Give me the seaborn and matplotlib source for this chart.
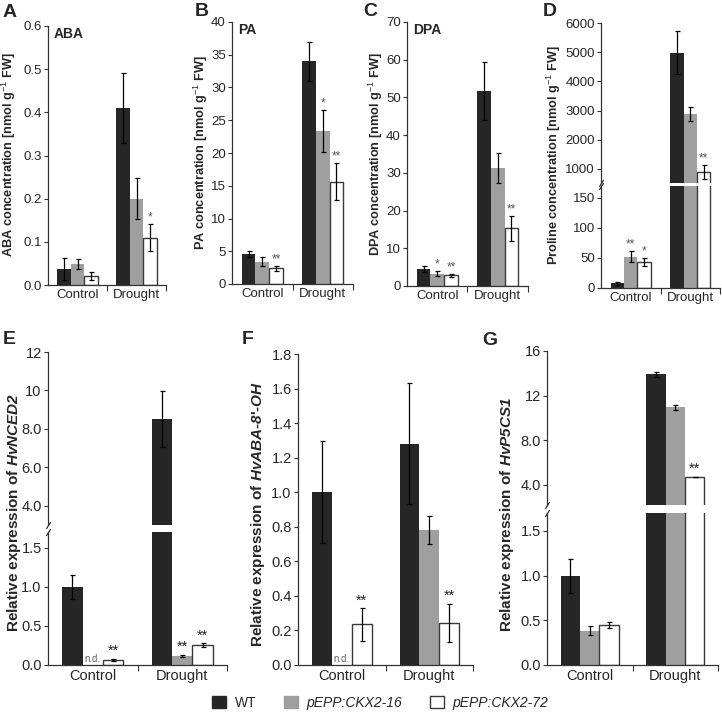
import numpy as np
import pandas as pd
import matplotlib.pyplot as plt
import seaborn as sns
from matplotlib.patches import Patch

sns.set_style("ticks")
plt.rcParams['font.family'] = ['Liberation Sans', 'DejaVu Sans']
plt.rcParams['mathtext.fontset'] = 'custom'
plt.rcParams['mathtext.rm'] = 'Liberation Sans'
plt.rcParams['mathtext.it'] = 'Liberation Sans:italic'
plt.rcParams['mathtext.bf'] = 'Liberation Sans:bold'
plt.rcParams['mathtext.bfit'] = 'Liberation Sans:bold:italic'

# -------------------------------
# Data (rows: WT, CKX2-16, CKX2-72 ; columns: Control, Drought)
# -------------------------------
conditions = ["Control", "Drought"]
lines = ["WT", "pEPP:CKX2-16", "pEPP:CKX2-72"]

aba_mean = [[0.037, 0.41], [0.049, 0.20], [0.020, 0.11]]
aba_err = [[0.026, 0.08], [0.011, 0.047], [0.009, 0.031]]
aba_sig = [["", ""], ["", ""], ["", "*"]]

pa_mean = [[4.6, 34.0], [3.4, 23.3], [2.4, 15.6]]
pa_err = [[0.5, 3.0], [0.7, 3.2], [0.35, 2.8]]
pa_sig = [["", ""], ["", "*"], ["**", "**"]]

dpa_mean = [[4.5, 51.7], [3.3, 31.3], [2.8, 15.3]]
dpa_err = [[0.7, 7.8], [0.6, 3.9], [0.4, 3.3]]
dpa_sig = [["", ""], ["*", ""], ["**", "**"]]

pro_mean = [[8, 4980], [52, 2880], [44, 890]]
pro_err = [[2.5, 740], [9, 250], [6.5, 250]]
pro_sig = [["", ""], ["**", ""], ["*", "**"]]

nced_mean = [[1.0, 8.5], [np.nan, 0.12], [0.065, 0.255]]
nced_err = [[0.155, 1.45], [np.nan, 0.012], [0.018, 0.02]]
nced_sig = [["", ""], ["n.d.", "**"], ["**", "**"]]

aba8_mean = [[1.0, 1.28], [np.nan, 0.78], [0.235, 0.245]]
aba8_err = [[0.295, 0.35], [np.nan, 0.08], [0.095, 0.11]]
aba8_sig = [["", ""], ["n.d.", ""], ["**", "**"]]

p5cs_mean = [[1.0, 13.9], [0.385, 10.95], [0.445, 4.7]]
p5cs_err = [[0.19, 0.22], [0.055, 0.2], [0.035, 0.03]]
p5cs_sig = [["", ""], ["", ""], ["", "**"]]

colors = ["#262626", "#9f9f9f", "#ffffff"]
edge = "#3a3a3a"
spine_col = "#333333"

W, H = 722, 713
fig = plt.figure(figsize=(W / 100, H / 100), dpi=100)


def px_axes(x0, y0, x1, y1):
    return fig.add_axes([x0 / W, 1 - y1 / H, (x1 - x0) / W, (y1 - y0) / H])


def make_df(mean):
    rows = []
    for i, ln in enumerate(lines):
        for j, c in enumerate(conditions):
            rows.append({'condition': c, 'line': ln, 'value': mean[i][j]})
    return pd.DataFrame(rows)


def draw_bars(ax, mean, err, sig, ylim, yticks, yticklabels, fs, star_fs,
              star_col, bottom=True, show_nd=True):
    df = make_df(mean).fillna(0)
    sns.barplot(data=df, x='condition', y='value', hue='line', order=conditions,
                hue_order=lines, palette=colors, width=0.68, saturation=1,
                errorbar=None, legend=False, linewidth=0, ax=ax)
    bar_groups = list(ax.containers)[:3]
    for i, cont in enumerate(bar_groups):
        for j, bar in enumerate(cont):
            if i == 2:
                bar.set_edgecolor(edge)
                bar.set_linewidth(1.0)
            m, e, s = mean[i][j], err[i][j], sig[i][j]
            xc = bar.get_x() + bar.get_width() / 2
            if np.isnan(m):
                if show_nd and s:
                    ax.annotate(s, (xc, 0), xytext=(0, 1), textcoords='offset points',
                                ha='center', va='bottom', fontsize=7, color='#666666',
                                annotation_clip=False)
                continue
            ax.errorbar(xc, m, yerr=e, fmt='none', ecolor='k', elinewidth=0.9,
                        capsize=1.8, capthick=0.9)
            if s:
                ax.annotate(s, (xc, m + e), xytext=(0, 0.5), textcoords='offset points',
                            ha='center', va='bottom', fontsize=star_fs, color=star_col,
                            annotation_clip=True)
    ax.set_xlim(-0.5, 1.5)
    ax.set_ylim(*ylim)
    ax.set_xlabel('')
    ax.set_ylabel('')
    ax.set_yticks(yticks)
    ax.set_yticklabels(yticklabels)
    for sp in ['top', 'right']:
        ax.spines[sp].set_visible(False)
    for sp in ['left', 'bottom']:
        ax.spines[sp].set_color(spine_col)
        ax.spines[sp].set_linewidth(0.9)
    ax.tick_params(axis='y', length=3, width=0.8, color=spine_col, labelsize=fs, pad=1.5)
    if bottom:
        ax.set_xticks([0.5, 1.5])
        ax.set_xticklabels(['', ''])
        ax.set_xticks([0, 1], minor=True)
        ax.set_xticklabels(conditions, minor=True)
        ax.tick_params(axis='x', which='major', length=4, width=0.8, color=spine_col)
        ax.tick_params(axis='x', which='minor', length=0, labelsize=fs, pad=3)
    else:
        ax.spines['bottom'].set_visible(False)
        ax.set_xticks([])


def break_marks(ax_hi, ax_lo):
    kw = dict(marker=[(-1, -1.6), (1, 1.6)], markersize=5, linestyle='none',
              color=spine_col, mec=spine_col, mew=0.9, clip_on=False)
    ax_lo.plot([0], [1.0], transform=ax_lo.transAxes, **kw)
    ax_hi.plot([0], [0.0], transform=ax_hi.transAxes, **kw)


# ---------------- top row ----------------
top_fs = 9.5
axA = px_axes(48, 26, 166, 285)
aticks = np.round(np.arange(0, 0.61, 0.1), 1)
draw_bars(axA, aba_mean, aba_err, aba_sig, (0, 0.6), aticks,
          [f"{v:.1f}" for v in aticks], top_fs, 8.5, '#555555')

axB = px_axes(232, 22, 353, 284)
draw_bars(axB, pa_mean, pa_err, pa_sig, (0, 40), list(range(0, 41, 5)),
          [str(v) for v in range(0, 41, 5)], top_fs, 8.5, '#555555')

axC = px_axes(407, 22, 528, 286)
draw_bars(axC, dpa_mean, dpa_err, dpa_sig, (0, 70), list(range(0, 71, 10)),
          [str(v) for v in range(0, 71, 10)], top_fs, 8.5, '#555555')

axD_hi = px_axes(601, 23, 720, 183)
axD_lo = px_axes(601, 186, 720, 288)
draw_bars(axD_hi, pro_mean, pro_err, pro_sig, (520, 6000), list(range(1000, 6001, 1000)),
          [str(v) for v in range(1000, 6001, 1000)], top_fs, 8.5, '#555555', bottom=False)
draw_bars(axD_lo, pro_mean, pro_err, pro_sig, (0, 170), [0, 50, 100, 150],
          ['0', '50', '100', '150'], top_fs, 8.5, '#555555')
break_marks(axD_hi, axD_lo)

for ax, name in [(axA, 'ABA'), (axB, 'PA'), (axC, 'DPA')]:
    ax.text(0.05, 0.995, name, transform=ax.transAxes, ha='left', va='top',
            fontsize=10, fontweight='bold')

# ---------------- bottom row ----------------
bot_fs = 10.5
axE_hi = px_axes(48, 352, 227, 525)
axE_lo = px_axes(48, 532, 227, 665)
draw_bars(axE_hi, nced_mean, nced_err, nced_sig, (3.0, 12), [4, 6, 8, 10, 12],
          ['4.0', '6.0', '8.0', '10', '12'], bot_fs, 10.5, '#222222', bottom=False,
          show_nd=False)
draw_bars(axE_lo, nced_mean, nced_err, nced_sig, (0, 1.7), [0, 0.5, 1.0, 1.5],
          ['0.0', '0.5', '1.0', '1.5'], bot_fs, 10.5, '#222222')
break_marks(axE_hi, axE_lo)

axF = px_axes(298, 354, 473, 665)
fticks = np.round(np.arange(0, 1.81, 0.2), 1)
draw_bars(axF, aba8_mean, aba8_err, aba8_sig, (0, 1.8), fticks,
          [f"{v:.1f}" for v in fticks], bot_fs, 10.5, '#222222')

axG_hi = px_axes(547, 351, 718, 505)
axG_lo = px_axes(547, 513, 718, 665)
draw_bars(axG_hi, p5cs_mean, p5cs_err, p5cs_sig, (2.2, 16), [4, 8, 12, 16],
          ['4.0', '8.0', '12', '16'], bot_fs, 10.5, '#222222', bottom=False)
draw_bars(axG_lo, p5cs_mean, p5cs_err, p5cs_sig, (0, 1.7), [0, 0.5, 1.0, 1.5],
          ['0.0', '0.5', '1.0', '1.5'], bot_fs, 10.5, '#222222')
break_marks(axG_hi, axG_lo)

# ---------------- y labels ----------------
ylabels = [
    (9, 155, "ABA concentration [nmol g$^{-1}$ FW]", 9.2),
    (201, 153, "PA concentration [nmol g$^{-1}$ FW]", 9.2),
    (376, 154, "DPA concentration [nmol g$^{-1}$ FW]", 9.2),
    (554, 155, "Proline concentration [nmol g$^{-1}$ FW]", 9.2),
    (14, 512, r"Relative expression of $\mathbfit{HvNCED2}$", 11),
    (258, 514, r"Relative expression of $\mathbfit{HvABA}$-$\mathbfit{8}$'-$\mathbfit{OH}$", 11),
    (507, 514, r"Relative expression of $\mathbfit{HvP5CS1}$", 11),
]
for x, y, txt, fs in ylabels:
    fig.text(x / W, 1 - y / H, txt, rotation=90, ha='center', va='center',
             fontsize=fs, fontweight='bold')

# ---------------- panel letters ----------------
letters = [("A", 3, 4), ("B", 195, 3), ("C", 363, 3), ("D", 543, 3),
           ("E", 3, 331), ("F", 242, 331), ("G", 482, 332)]
for lab, x, y in letters:
    fig.text(x / W, 1 - y / H, lab, ha='left', va='top', fontsize=14, fontweight='bold')

# ---------------- legend ----------------
handles = [Patch(facecolor=colors[0], edgecolor=colors[0]),
           Patch(facecolor=colors[1], edgecolor=colors[1]),
           Patch(facecolor=colors[2], edgecolor=edge, linewidth=1.0)]
leg = fig.legend(handles, lines, loc='center', bbox_to_anchor=(380 / W, 1 - 703 / H),
                 ncol=3, frameon=False, fontsize=10, handlelength=1.0, handleheight=1.0,
                 handletextpad=0.6, columnspacing=2.0)
for t in leg.get_texts()[1:]:
    t.set_style('italic')

fig.savefig("out.png", dpi=100)
